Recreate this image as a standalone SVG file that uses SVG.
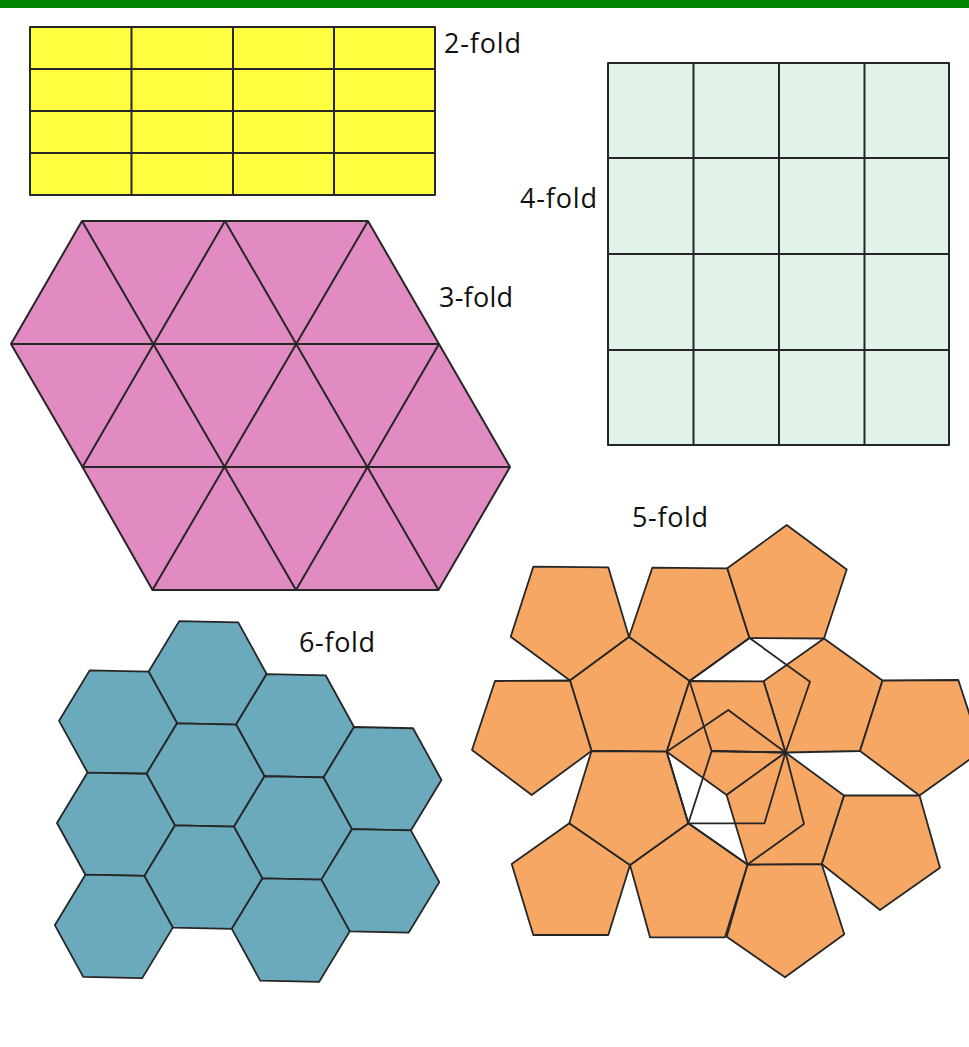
<svg xmlns="http://www.w3.org/2000/svg" xmlns:xlink="http://www.w3.org/1999/xlink" width="969" height="1047" viewBox="0 0 969 1047">
<style>
.ln{stroke:#262626;stroke-width:2;stroke-linejoin:round;stroke-linecap:round}
.yel{fill:#FFFF3F}
.mint{fill:#E1F2E8}
.pink{fill:#E28AC2}
.hexf{fill:#6BA9BC;stroke:#262626;stroke-width:1.8;stroke-linejoin:round}
.pent{fill:#F6A764;stroke:#262626;stroke-width:1.8;stroke-linejoin:round}
.pento{fill:none;stroke:#262626;stroke-width:1.8;stroke-linejoin:round}
.grid{fill:none;stroke:#262626;stroke-width:2}
.lbl{font-family:"Open Sans","Noto Sans","Liberation Sans",sans-serif;font-size:27px;fill:#111}
</style>
<defs>
<path id="hex" d="M59,0 L29.5,51.1 L-29.5,51.1 L-59,0 L-29.5,-51.1 L29.5,-51.1 Z"/>
</defs>
<rect width="969" height="1047" fill="#ffffff"/>
<rect x="0" y="0" width="969" height="8" fill="#028402"/>

<g id="twofold">
<rect class="yel ln" x="30" y="27" width="405" height="168"/>
<path class="grid" d="M131.5,27V195M233,27V195M334,27V195M30,69H435M30,111H435M30,153H435"/>
<text class="lbl" x="444" y="53" textLength="77">2-fold</text>
</g>

<g id="fourfold">
<rect class="mint ln" x="608" y="63" width="341" height="382"/>
<path class="grid" d="M693.5,63V445M779,63V445M864.5,63V445M608,158H949M608,254H949M608,350H949"/>
<text class="lbl" x="520" y="208" textLength="77">4-fold</text>
</g>

<g id="threefold">
<polygon class="pink ln" points="82,221 368,221 439,344 510,467 438.5,590 152.5,590 82.5,467 11,344"/>
<path class="grid" d="M11,344H439M82.5,467H510M82,221L296,590M225,221L438.5,590M225,221L82.5,467M368,221L152.5,590M439,344L296,590"/>
<text class="lbl" x="439" y="307" textLength="74">3-fold</text>
</g>

<g id="sixfold">
<g transform="rotate(1.2 205.5 775)">
<use xlink:href="#hex" href="#hex" class="hexf" transform="translate(205.5,672.8)"/>
<use xlink:href="#hex" href="#hex" class="hexf" transform="translate(117,723.9)"/>
<use xlink:href="#hex" href="#hex" class="hexf" transform="translate(294,723.9)"/>
<use xlink:href="#hex" href="#hex" class="hexf" transform="translate(382.5,775)"/>
<use xlink:href="#hex" href="#hex" class="hexf" transform="translate(205.5,775)"/>
<use xlink:href="#hex" href="#hex" class="hexf" transform="translate(117,826.1)"/>
<use xlink:href="#hex" href="#hex" class="hexf" transform="translate(294,826.1)"/>
<use xlink:href="#hex" href="#hex" class="hexf" transform="translate(382.5,877.2)"/>
<use xlink:href="#hex" href="#hex" class="hexf" transform="translate(205.5,877.2)"/>
<use xlink:href="#hex" href="#hex" class="hexf" transform="translate(117,928.3)"/>
<use xlink:href="#hex" href="#hex" class="hexf" transform="translate(294,928.3)"/>
</g>
<text class="lbl" x="299" y="652" textLength="76">6-fold</text>
</g>

<g id="fivefold">
<polygon class="pent" points="533.3,566.7 608.3,567.3 629,637 570,680.5 510.7,636.7"/>
<polygon class="pent" points="652.3,567.7 727.3,568.3 749.5,638 689.5,681 629,637"/>
<polygon class="pent" points="786.7,525 846.7,569.5 824,638.5 749.5,638 727.3,568.3"/>
<polygon class="pent" points="629,637 689.5,681 666.7,751.7 591.5,751 570,680.5"/>
<polygon class="pent" points="495,681 570,680.5 591.5,751 531.7,795 472,750"/>
<polygon class="pent" points="824,638.5 882.5,680.5 860,751 785.5,752.5 763.5,681.3"/>
<polygon class="pent" points="882.5,680.5 958.3,680 981.5,751 919.5,795.5 860,751"/>
<polygon class="pent" points="844,795.5 919.5,795.5 940,867.7 880,910 821.7,864"/>
<polygon class="pent" points="747.5,864.5 821.7,864 844.3,934.3 785,977.3 726.7,936.7"/>
<polygon class="pent" points="688.3,823.3 747.5,864.5 725,937.3 650,937.3 630,865"/>
<polygon class="pent" points="569.3,823.3 630,865 608.3,935 533.3,935 511.7,864"/>
<polygon class="pent" points="591.5,751 666.7,751.7 688.3,823.3 630,865 569.3,823.3"/>
<polygon class="pent" points="689.5,681 763.5,681.3 785.5,752.5 726.6,795 666.7,751.7"/>
<polygon class="pent" points="785.5,752.5 844,795.5 821.7,864 747.5,864.5 726.6,795"/>
<polygon class="pento" points="749.5,638 810,681.7 785.5,752.5 711.7,751 689.5,681"/>
<polygon class="pento" points="728.3,710 785.5,752.5 764.5,823.3 688.3,823.3 666.7,751.7"/>
<polygon class="pento" points="711.7,751 785.5,752.5 804,824 747.5,864.5 688.3,823.3"/>
<text class="lbl" x="632" y="527" textLength="76">5-fold</text>
</g>

<g id="connectors"></g>
</svg>
